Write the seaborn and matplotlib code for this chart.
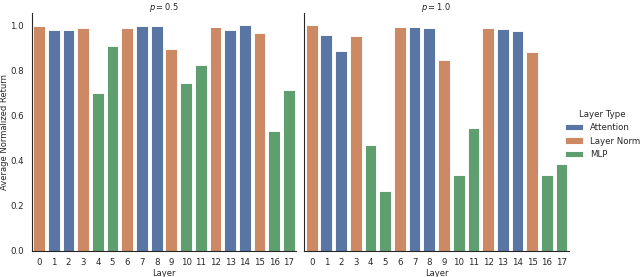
import matplotlib
matplotlib.use("Agg")
import matplotlib.pyplot as plt
import seaborn as sns
import pandas as pd

layers = list(range(18))
layer_types = ["Layer Norm", "Attention", "Attention", "Layer Norm", "MLP", "MLP",
               "Layer Norm", "Attention", "Attention", "Layer Norm", "MLP", "MLP",
               "Layer Norm", "Attention", "Attention", "Layer Norm", "MLP", "MLP"]
returns_p05 = [1.00, 0.982, 0.982, 0.988, 0.702, 0.912, 0.988, 0.998, 1.00, 0.895,
               0.746, 0.825, 0.995, 0.982, 1.004, 0.968, 0.532, 0.716]
returns_p10 = [1.004, 0.960, 0.889, 0.953, 0.468, 0.265, 0.996, 0.996, 0.991, 0.849,
               0.336, 0.544, 0.988, 0.985, 0.979, 0.883, 0.336, 0.387]
p_values = ["$p = 0.5$", "$p = 1.0$"]
hue_order = ["Attention", "Layer Norm", "MLP"]

rows = []
for p, vals in zip(p_values, [returns_p05, returns_p10]):
    for l, t, v in zip(layers, layer_types, vals):
        rows.append({"Layer": l, "Layer Type": t, "p": p, "Average Normalized Return": v})
df = pd.DataFrame(rows)

sns.set_theme(style="white", context="paper", rc={
    "xtick.labelsize": 7.8, "ytick.labelsize": 7.8,
    "axes.labelsize": 7.5, "axes.titlesize": 7.5,
    "legend.fontsize": 7.8, "legend.title_fontsize": 7.8,
    "xtick.major.pad": 2.0, "ytick.major.pad": 2.0,
    "axes.labelpad": 1.5, "axes.titlepad": 2.5,
})
g = sns.catplot(data=df, x="Layer", y="Average Normalized Return", hue="Layer Type",
                hue_order=hue_order, col="p", col_order=p_values, kind="bar",
                dodge=False, errorbar=None, palette="deep", height=3.4625, aspect=1.0)
g.set_titles("{col_name}")
g.set(ylim=(0, 1.058))
g.figure.set_size_inches(8, 3.4625)
g.figure.subplots_adjust(left=0.0495, right=0.889, bottom=0.095, top=0.954, wspace=0.03)
g._legend.set_bbox_to_anchor((1.012, 0.515))
g.figure.savefig("out.png", dpi=80)
